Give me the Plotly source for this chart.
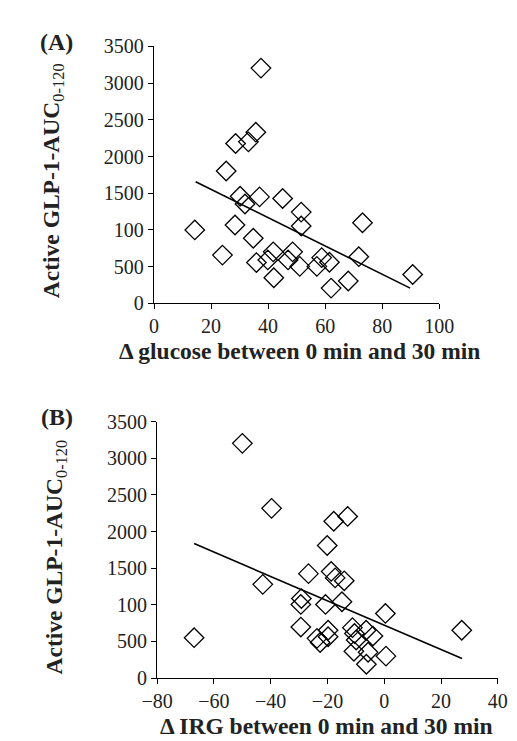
import plotly.graph_objects as go

W, H = 517, 741

# Panel A data: delta glucose vs Active GLP-1 AUC
a_x = [14.3, 24.0, 25.3, 28.6, 28.4, 30.2, 31.9, 33.1, 35.7, 37.5, 37.0, 34.8, 35.9, 39.9, 41.8,
       42.0, 45.1, 47.0, 48.6, 51.1, 51.6, 51.6, 57.1, 58.8, 61.5, 62.1, 68.1, 71.8, 73.1, 90.7]
a_y = [1000, 657, 1803, 2178, 1067, 1459, 1353, 2200, 2332, 3205, 1450, 886, 555, 591, 701,
       348, 1428, 591, 701, 503, 1243, 1054, 503, 622, 560, 207, 304, 635, 1098, 392]
a_fit_x = [14.6, 89.8]
a_fit_y = [1657, 207]

# Panel B data: delta IRG vs Active GLP-1 AUC
b_x = [-67.0, -50.0, -39.7, -42.8, -29.4, -29.2, -29.4, -26.7, -23.7, -22.6, -20.7, -20.1, -19.8,
       -19.8, -18.7, -17.8, -17.3, -12.9, -14.1, -14.9, -11.2, -10.5, -9.9, -10.7, -6.4, -5.7,
       -6.3, -4.0, 0.4, 0.6, 27.3]
b_y = [552, 3204, 2317, 1280, 1006, 1086, 697, 1426, 543, 486, 1006, 1810, 653, 565, 1456, 2141,
       1368, 2207, 1328, 1042, 689, 609, 521, 366, 653, 353, 190, 574, 883, 300, 653]
b_fit_x = [-67.0, 27.4]
b_fit_y = [1836, 269]

y_tickvals = [0, 500, 1000, 1500, 2000, 2500, 3000, 3500]
y_ticktext = ["0", "500", "100", "1500", "2000", "2500", "3000", "3500"]
a_xticks = [0, 20, 40, 60, 80, 100]
b_xticks = [-80, -60, -40, -20, 0, 20, 40]
b_xticktext = ["\u221280", "\u221260", "\u221240", "\u221220", "0", "20", "40"]

FONT = "Liberation Serif"


def px_x(x):
    return x / W


def px_y(y):
    return 1 - y / H


fig = go.Figure()

marker = dict(symbol="diamond-open", size=15, color="black", line=dict(width=1.3, color="black"))

fig.add_trace(go.Scatter(x=a_x, y=a_y, mode="markers", marker=marker, xaxis="x", yaxis="y",
                         showlegend=False))
fig.add_trace(go.Scatter(x=a_fit_x, y=a_fit_y, mode="lines", line=dict(color="black", width=1.6),
                         xaxis="x", yaxis="y", showlegend=False))
fig.add_trace(go.Scatter(x=b_x, y=b_y, mode="markers", marker=marker, xaxis="x2", yaxis="y2",
                         showlegend=False))
fig.add_trace(go.Scatter(x=b_fit_x, y=b_fit_y, mode="lines", line=dict(color="black", width=1.6),
                         xaxis="x2", yaxis="y2", showlegend=False))

axis_common = dict(showline=True, linecolor="black", linewidth=1.3, ticks="outside", ticklen=5,
                   tickwidth=1.3, tickcolor="black", showgrid=False, zeroline=False,
                   tickfont=dict(family=FONT, size=20, color="#222"))

fig.update_layout(
    width=W, height=H,
    margin=dict(l=0, r=0, t=0, b=0),
    paper_bgcolor="white", plot_bgcolor="white",
    xaxis=dict(domain=[px_x(138.3), px_x(441.7)], range=[0, 100], tickvals=a_xticks,
               anchor="y", **axis_common),
    yaxis=dict(domain=[px_y(293), px_y(28.3)], range=[0, 3500], tickvals=y_tickvals,
               ticktext=y_ticktext, anchor="x", **axis_common),
    xaxis2=dict(domain=[px_x(141.7), px_x(504)], range=[-80, 40], tickvals=b_xticks,
                ticktext=b_xticktext, anchor="y2", **axis_common),
    yaxis2=dict(domain=[px_y(679.3), px_y(415)], range=[0, 3500], tickvals=y_tickvals,
                ticktext=y_ticktext, anchor="x2", **axis_common),
)

title_font = dict(family=FONT, size=23.5, color="#222")
label_font = dict(family=FONT, size=24, color="#222")
annots = [
    dict(text="<b>(A)</b>", x=px_x(35), y=px_y(24), xanchor="center", yanchor="middle",
         font=label_font),
    dict(text="<b>(B)</b>", x=px_x(35), y=px_y(410), xanchor="center", yanchor="middle",
         font=label_font),
    dict(text="<b>\u0394 glucose between 0 min and 30 min</b>", x=px_x(293), y=px_y(342),
         xanchor="center", yanchor="middle", font=title_font),
    dict(text="<b>\u0394 IRG between 0 min and 30 min</b>", x=px_x(322), y=px_y(729),
         xanchor="center", yanchor="middle", font=title_font),
    dict(text="<b>Active GLP-1-AUC</b><sub>0-120</sub>", x=px_x(31), y=px_y(167), textangle=-90,
         xanchor="center", yanchor="middle", font=title_font),
    dict(text="<b>Active GLP-1-AUC</b><sub>0-120</sub>", x=px_x(34), y=px_y(554), textangle=-90,
         xanchor="center", yanchor="middle", font=title_font),
]
for a in annots:
    fig.add_annotation(xref="paper", yref="paper", showarrow=False, **a)

fig.write_html("out.html")
